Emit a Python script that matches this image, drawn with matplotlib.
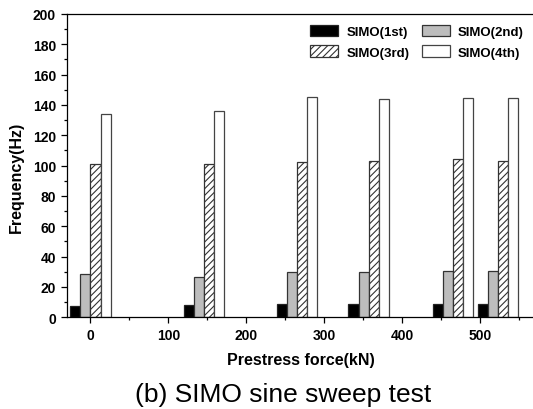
import matplotlib
matplotlib.use("Agg")
import matplotlib.pyplot as plt
import numpy as np

# Data
prestress = [0, 146, 265, 357, 465, 523]
simo_1st = [7.7, 8.4, 8.8, 9.0, 9.0, 9.0]
simo_2nd = [28.4, 26.6, 29.7, 30.1, 30.3, 30.3]
simo_3rd = [101.1, 100.9, 102.2, 102.9, 104.4, 103.3]
simo_4th = [133.8, 135.8, 145.5, 144.2, 144.6, 144.6]
series_names = ["SIMO(1st)", "SIMO(2nd)", "SIMO(3rd)", "SIMO(4th)"]
y_ticks = [0, 20, 40, 60, 80, 100, 120, 140, 160, 180, 200]
x_ticks = [0, 100, 200, 300, 400, 500]

plt.rcParams['font.family'] = ['Liberation Sans', 'DejaVu Sans']
plt.rcParams['hatch.linewidth'] = 0.8

fig = plt.figure(figsize=(5.33, 4.10), dpi=100)
ax = fig.add_axes([67/533, (410-318.3)/410, 467.8/533, 303.3/410])

w = 13
x = np.array(prestress, dtype=float)
styles = [
    dict(color="black", edgecolor="#222222"),
    dict(color="#bdbdbd", edgecolor="#333333"),
    dict(color="white", edgecolor="#333333", hatch="/////"),
    dict(color="white", edgecolor="#444444"),
]
data = [simo_1st, simo_2nd, simo_3rd, simo_4th]
offsets = [-1.5, -0.5, 0.5, 1.5]
handles = []
for vals, st, off, name in zip(data, styles, offsets, series_names):
    b = ax.bar(x + off * w, vals, width=w, linewidth=0.9, label=name, **st)
    handles.append(b)

ax.set_xlim(-30, 570)
ax.set_ylim(0, 200)
ax.set_yticks(y_ticks)
ax.set_yticks(np.arange(10, 200, 20), minor=True)
ax.set_xticks(x_ticks)
ax.set_xticks(np.arange(50, 600, 100), minor=True)
ax.tick_params(which='major', direction='out', length=4.5, width=0.9, labelsize=10)
ax.tick_params(which='minor', direction='out', length=2.5, width=0.9)
for lab in ax.get_xticklabels() + ax.get_yticklabels():
    lab.set_fontweight('bold')
for s in ax.spines.values():
    s.set_linewidth(0.9)

ax.set_xlabel("Prestress force(kN)", fontsize=11.5, fontweight='bold', labelpad=7)
ax.set_ylabel("Frequency(Hz)", fontsize=11.5, fontweight='bold')
ax.yaxis.set_label_coords(-0.092, (410-177-91.7)/303.3)

order = [0, 2, 1, 3]
leg = ax.legend([handles[i] for i in order], [series_names[i] for i in order],
                ncol=2, loc='upper left', bbox_to_anchor=((310-67)/467.8, 1 - (25.5-15)/303.3),
                frameon=False, prop=dict(size=9.5, weight='bold'),
                handlelength=2.1, handleheight=1.0, handletextpad=0.65,
                columnspacing=0.95, labelspacing=0.55, borderaxespad=0, borderpad=0)

fig.text(0.531, 1 - 395/410, "(b) SIMO sine sweep test", fontsize=19,
         ha='center', va='center')

fig.savefig("out.png", dpi=100)
